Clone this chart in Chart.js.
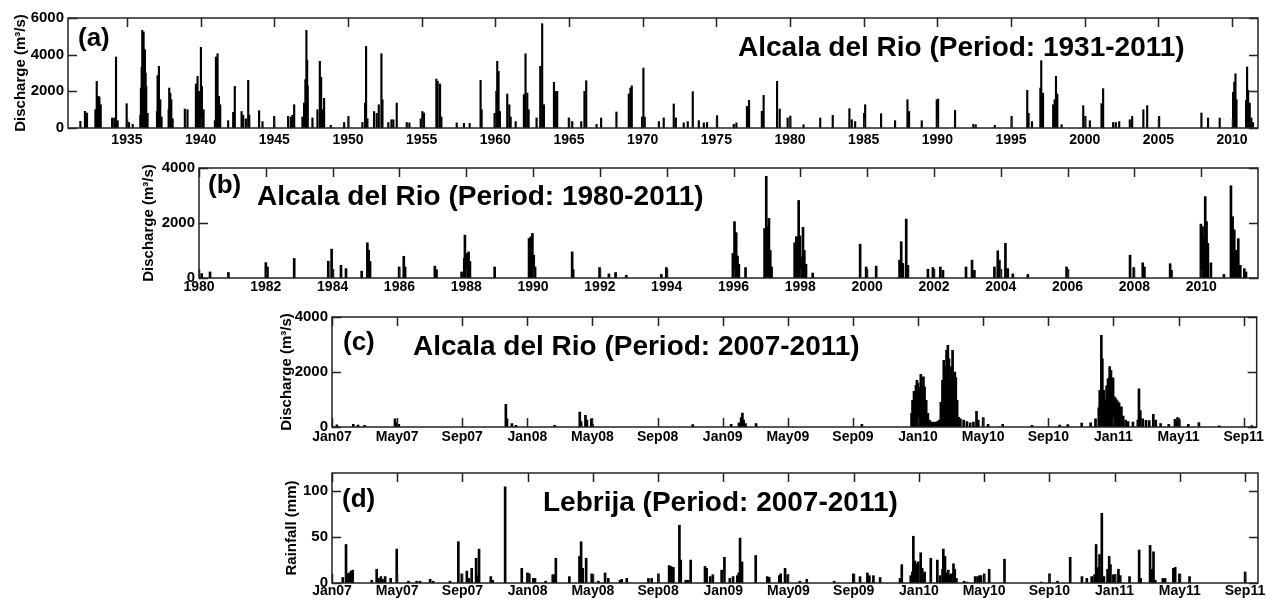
<!DOCTYPE html>
<html>
<head>
<meta charset="utf-8">
<script src="https://cdn.jsdelivr.net/npm/chart.js@4.4.0/dist/chart.umd.min.js"></script>
<style>
  html, body { margin: 0; padding: 0; background: #fff; }
  #wrap { position: relative; width: 1266px; height: 601px; overflow: hidden; }
  .panel { position: absolute; left: 0; width: 1266px; }
</style>
</head>
<body>
<div id="wrap">
  <div class="panel" style="top:0;height:150px"><canvas id="chartA"></canvas></div>
  <div class="panel" style="top:150px;height:150px"><canvas id="chartB"></canvas></div>
  <div class="panel" style="top:300px;height:150px"><canvas id="chartC"></canvas></div>
  <div class="panel" style="top:450px;height:151px"><canvas id="chartD"></canvas></div>
</div>
<script>
// (a) Alcala del Rio discharge peaks 1931-2011 (decimal year, m3/s)
const aYear = [1931.84,1932.15,1932.29,1932.86,1932.95,1933.04,1933.13,1933.22,1933.99,1934.14,1934.26,1934.37,1934.98,1935.14,1935.39,
  1935.91,1935.95,1936.0,1936.04,1936.09,1936.13,1936.18,1936.22,1936.27,1936.31,1936.4,1937.04,1937.08,1937.17,1937.26,1937.35,
  1937.83,1937.87,1937.94,1938.01,1938.1,1938.93,1939.11,1939.68,1939.79,1939.9,1940.02,1940.09,1940.2,1940.97,1941.04,1941.15,
  1941.24,1941.33,1941.87,1942.21,1942.32,1942.78,1942.89,1943.07,1943.23,1943.3,1943.97,1944.2,1944.99,1945.94,1946.12,1946.23,
  1946.35,1946.91,1947.02,1947.11,1947.18,1947.23,1947.27,1947.59,1947.93,1948.09,1948.18,1948.27,1948.38,1948.83,1949.74,1950.03,
  1950.98,1951.16,1951.23,1951.32,1951.77,1951.95,1952.09,1952.27,1952.34,1952.74,1952.95,1953.08,1953.31,1953.99,1954.17,1954.94,
  1955.05,1955.16,1956.0,1956.09,1956.25,1956.34,1957.38,1957.87,1958.26,1959.0,1959.07,1959.95,1960.07,1960.13,1960.22,1960.31,
  1960.81,1960.95,1961.04,1961.38,1961.94,1962.05,1962.17,1962.26,1962.8,1963.05,1963.18,1963.3,1963.98,1964.11,1964.2,1964.99,
  1965.22,1965.83,1966.05,1966.17,1966.87,1967.18,1968.22,1969.06,1969.17,1969.26,1969.96,1970.05,1970.14,1971.1,1971.43,1972.11,
  1972.25,1972.79,1973.06,1973.4,1973.81,1974.15,1974.37,1975.05,1976.18,1976.36,1977.08,1977.22,1978.09,1978.21,1979.12,1979.3,
  1979.84,1980.02,1980.92,1982.05,1982.9,1984.03,1984.19,1984.42,1985.03,1985.1,1986.18,1987.13,1987.97,1988.08,1988.94,1989.96,
  1990.05,1991.2,1992.44,1992.6,1993.9,1995.04,1996.1,1996.19,1996.42,1996.99,1997.05,1997.17,1997.86,1997.96,1998.05,1998.14,
  1998.43,1999.9,2000.04,2000.35,2001.14,2001.25,2001.93,2002.11,2002.34,2003.06,2003.22,2003.98,2004.24,2005.05,2007.92,2008.37,
  2009.16,2010.07,2010.15,2010.23,2010.3,2010.95,2011.02,2011.09,2011.2,2011.31,2011.42];
const aFlow = [364,910,820,1000,2545,1730,1700,1270,545,545,3870,400,1327,300,200,
  700,2180,3300,5330,4500,5240,4270,4270,3000,2270,800,900,2855,3360,1545,600,
  1000,2180,1900,1545,500,1036,1000,2400,2820,2000,4400,2270,1000,400,3870,4050,
  1730,1270,400,850,2270,900,700,500,2600,700,945,350,636,636,600,700,
  1270,600,1360,2636,5330,3700,2300,550,1000,3636,2760,1000,1618,150,300,636,
  300,1360,4450,500,900,800,1270,4050,1545,300,450,450,1360,300,280,500,
  900,820,2670,2545,2400,600,280,250,250,2600,1000,800,2000,3636,3090,900,
  1855,1270,600,350,1820,4050,1910,1000,550,3360,5690,1270,2490,2000,2000,550,
  350,350,2000,2580,200,545,872,1855,2180,2300,600,3270,600,350,550,1310,
  550,280,350,1980,400,280,300,673,200,280,1180,1510,910,1780,2545,1036,
  550,650,180,545,690,1055,450,350,800,1270,780,400,1545,900,400,1545,
  1580,963,200,180,150,636,2055,800,350,2180,3670,1900,1270,1545,2820,1855,
  180,1220,636,400,1330,2145,300,300,350,450,636,1000,1220,636,820,545,
  545,1945,2500,2960,1545,1500,3330,2055,1360,545,300];
const aTicks = [1935,1940,1945,1950,1955,1960,1965,1970,1975,1980,1985,1990,1995,2000,2005,2010];

// (b) Alcala del Rio discharge peaks 1980-2011 (decimal year, m3/s)
const bYear = [1980.08,1980.33,1980.88,1982.0,1982.05,1982.85,1983.87,1983.97,1984.25,1984.4,1984.87,1985.04,1985.08,1985.12,
  1985.99,1986.13,1986.17,1987.06,1987.11,1987.86,1987.94,1987.96,1988.03,1988.07,1988.11,1988.85,1989.88,1989.93,1989.98,
  1990.02,1990.06,1991.17,1991.2,1991.99,1992.27,1992.47,1992.79,1993.84,1993.99,1995.98,1996.03,1996.08,1996.12,1996.16,
  1996.36,1996.93,1996.98,1997.02,1997.06,1997.1,1997.14,1997.83,1997.88,1997.92,1997.95,1997.99,1998.03,1998.08,1998.12,
  1998.17,1998.37,1999.79,1999.97,2000.27,2000.97,2001.02,2001.07,2001.17,2001.22,2001.82,2001.97,2002.19,2002.27,2002.96,
  2003.14,2003.21,2003.81,2003.91,2003.96,2004.14,2004.21,2004.36,2004.81,2005.97,2007.87,2007.98,2008.25,2008.3,2009.07,
  2009.11,2009.99,2010.04,2010.08,2010.12,2010.16,2010.2,2010.29,2010.68,2010.89,2010.94,2010.99,2011.04,2011.11,2011.17,
  2011.29,2011.34];
const bFlow = [160,220,200,560,400,710,610,1050,460,340,250,1280,1010,600,
  400,790,400,430,300,220,710,1560,890,950,600,400,1440,1500,1620,
  830,400,950,300,380,150,200,100,130,380,890,2050,1650,800,500,
  380,1800,3700,1870,2170,1000,400,1280,1500,1500,2820,1530,770,1840,1000,
  500,180,1230,400,430,650,1320,530,2140,460,320,380,400,280,400,
  650,280,400,990,650,1260,340,150,130,400,830,380,550,400,520,
  280,1960,1870,1500,2960,2050,1260,550,130,3355,2230,1750,1010,1430,460,
  340,220];
const bTicks = [1980,1982,1984,1986,1988,1990,1992,1994,1996,1998,2000,2002,2004,2006,2008,2010];

// (c) Alcala del Rio discharge 2007-2011 (months since Jan 2007, m3/s)
const cMonth = [0.3,1.31,1.6,2.0,3.87,3.95,4.1,10.68,10.75,11.05,11.3,13.68,15.22,15.3,15.57,15.66,15.93,16.0,
  22.16,24.52,25.0,25.13,25.21,25.29,25.4,26.05,32.55,
  35.6,35.66,35.75,35.87,35.93,36.0,36.07,36.17,36.25,36.33,36.4,36.5,36.6,36.7,36.8,36.9,37.0,37.1,37.2,37.3,
  37.4,37.5,37.58,37.66,37.75,37.83,37.9,37.97,38.05,38.12,38.2,38.26,38.32,38.4,38.5,38.6,38.8,39.0,39.2,39.4,
  39.59,39.7,40.0,40.3,41.2,43.0,44.7,45.2,46.05,46.6,46.9,
  47.1,47.16,47.26,47.32,47.4,47.5,47.58,47.67,47.77,47.85,47.92,47.98,48.06,48.15,48.25,48.35,48.49,48.6,48.75,48.9,
  49.2,49.5,49.57,49.65,49.8,50.0,50.2,50.45,50.6,50.9,51.4,51.78,51.85,51.94,52.05,52.6,53.25,54.5,56.5];
const cFlow = [80,100,70,60,300,150,100,820,300,120,60,60,545,200,425,250,300,100,
  85,100,150,340,510,250,120,120,100,
  500,970,1300,1515,1700,1600,1420,1915,1500,1820,1450,970,500,250,180,180,170,180,200,250,
  900,1700,2420,2200,2790,2970,2480,1700,2200,2790,1940,2000,1800,970,350,300,250,200,150,180,
  570,250,340,100,100,60,70,90,145,150,300,
  700,1330,3330,2480,1330,1000,1500,1760,2200,2060,1500,1790,1100,1030,950,880,730,400,250,200,
  180,250,1390,600,300,240,230,460,250,120,100,280,200,340,250,100,160,40,50];

// (d) Lebrija daily rainfall 2007-2011 (months since Jan 2007, mm)
const dMonth = [0.66,0.86,0.96,1.06,1.17,1.27,2.44,2.74,2.85,3.0,3.1,3.26,3.6,3.97,4.69,5.2,5.4,6.02,6.2,7.24,
  7.75,7.96,8.27,8.4,8.57,8.84,8.92,9.02,9.74,9.86,10.62,11.64,11.99,12.1,12.35,12.45,13.1,13.54,13.62,13.73,
  14.56,15.18,15.28,15.38,15.59,15.93,16.34,16.75,16.95,17.67,17.77,18.08,19.41,19.61,20.02,20.68,20.8,20.94,
  21.31,21.39,21.7,21.85,22.0,22.88,22.98,23.2,23.36,23.9,24.07,24.4,24.6,24.86,24.95,25.03,25.15,25.99,
  26.7,26.82,27.44,27.52,27.79,27.95,28.7,29.12,30.8,31.98,32.39,32.84,32.96,33.21,33.62,34.84,34.95,
  35.5,35.6,35.66,35.72,35.76,35.82,35.86,35.92,35.96,36.02,36.11,36.2,36.25,36.35,36.73,37.13,37.3,37.45,
  37.5,37.6,37.7,37.8,37.9,38.0,38.12,38.2,38.3,38.77,38.95,39.45,39.6,39.72,39.8,40.0,40.31,41.25,43.5,
  44.01,44.5,45.28,46.0,46.3,46.6,46.77,46.87,46.95,47.08,47.22,47.35,47.57,47.67,47.75,47.93,48.03,48.24,
  48.35,48.92,49.51,49.6,50.18,50.28,50.39,50.5,50.96,51.1,51.61,51.72,51.98,52.6,56.01];
const dRain = [6,42,10,11,13,14,3,15,5,7,4,7,5,37,2,2,2,4,2,2,
  45,10,13,5,16,27,8,37,7,3,105,16,11,10,5,5,2,9,9,27,
  7,29,45,16,27,10,2,11,5,3,4,5,5,5,10,19,18,17,
  63,25,3,3,25,18,16,7,9,14,28,5,7,8,11,49,23,30,
  7,6,8,10,16,9,2,4,2,10,7,11,8,8,6,5,20,
  8,12,51,18,24,15,21,12,23,10,33,16,9,12,27,25,8,15,
  37,29,11,14,9,10,21,15,5,2,1,7,7,8,8,10,15,26,1,
  10,2,28,7,5,7,9,42,17,31,76,7,15,29,20,9,9,15,
  8,7,36,5,41,15,34,3,5,5,16,17,10,7,12];

const monthTicks = [0,4,8,12,16,20,24,28,32,36,40,44,48,52,56];
const monthLabels = ['Jan07','May07','Sep07','Jan08','May08','Sep08','Jan09','May09','Sep09',
  'Jan10','May10','Sep10','Jan11','May11','Sep11'];

const FONT = "'Liberation Sans', Arial, Helvetica, sans-serif";
const Y_AXIS_W = 68;

// box around the plot, MATLAB-like inward ticks, panel letter and title
const frame = {
  id: 'frame',
  afterDraw(chart, args, opts) {
    const { ctx, chartArea: a, scales: { x, y } } = chart;
    const tl = 9;
    ctx.save();
    ctx.strokeStyle = '#222';
    ctx.lineWidth = 1.5;
    ctx.strokeRect(a.left, a.top, a.right - a.left, a.bottom - a.top);
    ctx.beginPath();
    x.ticks.forEach(t => {
      const px = Math.round(x.getPixelForValue(t.value)) + 0.5;
      ctx.moveTo(px, a.top); ctx.lineTo(px, a.top + tl);
      ctx.moveTo(px, a.bottom); ctx.lineTo(px, a.bottom - tl);
    });
    y.ticks.forEach(t => {
      const py = Math.round(y.getPixelForValue(t.value)) + 0.5;
      ctx.moveTo(a.left, py); ctx.lineTo(a.left + tl, py);
      ctx.moveTo(a.right, py); ctx.lineTo(a.right - tl, py);
    });
    ctx.stroke();
    ctx.fillStyle = '#000';
    ctx.textBaseline = 'alphabetic';
    ctx.textAlign = 'left';
    ctx.font = 'bold 26px ' + FONT;
    ctx.fillText(opts.tag, opts.tagX, opts.tagY);
    ctx.font = 'bold 28px ' + FONT;
    ctx.fillText(opts.title, opts.titleX, opts.titleY);
    ctx.restore();
  }
};

function makePanel(id, p) {
  const pts = p.xs.map((v, i) => ({ x: v, y: p.ys[i] }));
  return new Chart(document.getElementById(id), {
    type: 'bar',
    data: {
      datasets: [{
        data: pts,
        backgroundColor: '#000',
        borderWidth: 0,
        barThickness: p.bar,
        grouped: false
      }]
    },
    options: {
      responsive: true,
      maintainAspectRatio: false,
      animation: false,
      events: [],
      layout: { padding: { left: p.left - Y_AXIS_W, top: p.top, right: 8, bottom: 0 } },
      plugins: {
        legend: { display: false },
        tooltip: { enabled: false },
        frame: p.text
      },
      scales: {
        x: {
          type: 'linear',
          offset: false,
          min: p.xMin,
          max: p.xMax,
          grid: { display: false, drawTicks: false },
          border: { display: false },
          afterBuildTicks: s => { s.ticks = p.xTicks.map(v => ({ value: v })); },
          afterFit: s => { s.height = p.xAxisH; },
          ticks: {
            autoSkip: false,
            maxRotation: 0,
            padding: p.xPad,
            color: '#000',
            font: { family: FONT, size: 14, weight: 'bold' },
            callback: (v, i) => p.xLabels[i]
          }
        },
        y: {
          min: 0,
          max: p.yMax,
          grid: { display: false, drawTicks: false },
          border: { display: false },
          afterBuildTicks: s => { s.ticks = p.yTicks.map(v => ({ value: v })); },
          afterFit: s => { s.width = Y_AXIS_W; },
          ticks: {
            padding: 4,
            color: '#000',
            font: { family: FONT, size: 15, weight: 'bold' },
            callback: v => String(v)
          },
          title: {
            display: true,
            text: p.yTitle,
            color: '#000',
            padding: { top: p.yTitlePad, bottom: 0 },
            font: { family: FONT, size: 15, weight: 'bold' }
          }
        }
      }
    },
    plugins: [frame]
  });
}

makePanel('chartA', {
  xs: aYear, ys: aFlow, bar: 1.5,
  xMin: 1931, xMax: 2011.76, xTicks: aTicks, xLabels: aTicks.map(String),
  yMax: 6000, yTicks: [0, 2000, 4000, 6000],
  left: 68, top: 18, xAxisH: 22, xPad: 4, yTitlePad: 12,
  yTitle: 'Discharge (m³/s)',
  text: { tag: '(a)', tagX: 78, tagY: 46, title: 'Alcala del Rio (Period: 1931-2011)', titleX: 738, titleY: 56 }
});

makePanel('chartB', {
  xs: bYear, ys: bFlow, bar: 2,
  xMin: 1980, xMax: 2011.7, xTicks: bTicks, xLabels: bTicks.map(String),
  yMax: 4000, yTicks: [0, 2000, 4000],
  left: 199, top: 18, xAxisH: 22, xPad: 1, yTitlePad: 9,
  yTitle: 'Discharge (m³/s)',
  text: { tag: '(b)', tagX: 208, tagY: 43, title: 'Alcala del Rio (Period: 1980-2011)', titleX: 257, titleY: 55 }
});

makePanel('chartC', {
  xs: cMonth, ys: cFlow, bar: 2,
  xMin: 0, xMax: 56.8, xTicks: monthTicks, xLabels: monthLabels,
  yMax: 4000, yTicks: [0, 2000, 4000],
  left: 332, top: 17, xAxisH: 23, xPad: 2, yTitlePad: 14,
  yTitle: 'Discharge (m³/s)',
  text: { tag: '(c)', tagX: 343, tagY: 50, title: 'Alcala del Rio (Period: 2007-2011)', titleX: 413, titleY: 55 }
});

makePanel('chartD', {
  xs: dMonth, ys: dRain, bar: 2,
  xMin: 0, xMax: 56.8, xTicks: monthTicks, xLabels: monthLabels,
  yMax: 120, yTicks: [0, 50, 100],
  left: 332, top: 23, xAxisH: 18, xPad: 0, yTitlePad: 19,
  yTitle: 'Rainfall (mm)',
  text: { tag: '(d)', tagX: 342, tagY: 57, title: 'Lebrija (Period: 2007-2011)', titleX: 543, titleY: 61 }
});
</script>
</body>
</html>
